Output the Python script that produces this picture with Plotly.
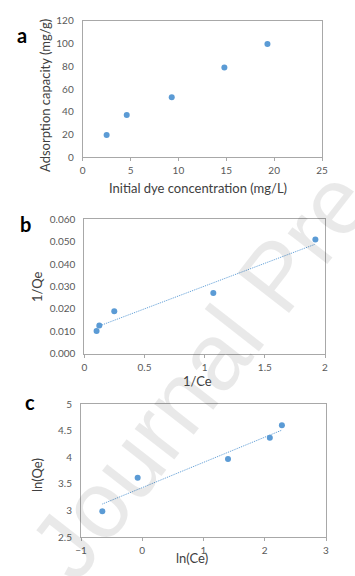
import numpy as np
import plotly.graph_objects as go

# Panel a: adsorption capacity vs initial dye concentration
conc_a = [2.5, 4.6, 9.3, 14.8, 19.3]
qe_a = [19.6, 37.2, 52.7, 78.8, 99.6]

# Panel b: Langmuir 1/Qe vs 1/Ce
inv_ce = [0.102, 0.125, 0.249, 1.072, 1.92]
inv_qe = [0.0101, 0.0126, 0.0190, 0.0271, 0.0510]

# Panel c: Freundlich ln(Qe) vs ln(Ce)
ln_ce = [-0.652, -0.075, 1.40, 2.083, 2.28]
ln_qe = [2.982, 3.615, 3.966, 4.367, 4.599]

W, H = 355, 576
BLUE = "#5b9bd5"
LINE = "#a8a8a8"
TICK = "#595959"
FONT = "Lato, 'Open Sans', sans-serif"

def px(x):
    return x / W

def py(y):
    return 1 - y / H

fig = go.Figure()

fig.add_trace(go.Scatter(x=conc_a, y=qe_a, mode="markers", marker=dict(color=BLUE, size=6),
                         xaxis="x", yaxis="y", showlegend=False))

pb = np.polyfit(inv_ce, inv_qe, 1)
xb = [min(inv_ce), max(inv_ce)]
fig.add_trace(go.Scatter(x=xb, y=list(np.polyval(pb, xb)), mode="lines",
                         line=dict(color=BLUE, width=1, dash="1px,1px"),
                         xaxis="x2", yaxis="y2", showlegend=False))
fig.add_trace(go.Scatter(x=inv_ce, y=inv_qe, mode="markers", marker=dict(color=BLUE, size=6),
                         xaxis="x2", yaxis="y2", showlegend=False))

pc = np.polyfit(ln_ce, ln_qe, 1)
xc = [min(ln_ce), max(ln_ce)]
fig.add_trace(go.Scatter(x=xc, y=list(np.polyval(pc, xc)), mode="lines",
                         line=dict(color=BLUE, width=1, dash="1px,1px"),
                         xaxis="x3", yaxis="y3", showlegend=False))
fig.add_trace(go.Scatter(x=ln_ce, y=ln_qe, mode="markers", marker=dict(color=BLUE, size=6),
                         xaxis="x3", yaxis="y3", showlegend=False))

def axis_common():
    return dict(showline=True, mirror=True, linecolor=LINE, linewidth=1, showgrid=False,
                zeroline=False, tickfont=dict(family=FONT, size=10, color=TICK),
                ticks="outside", ticklen=3, tickcolor=LINE, fixedrange=True)

ax = axis_common()
fig.update_layout(
    xaxis=dict(ax, domain=[px(82.7), px(322)], range=[0, 25], dtick=5, anchor="y"),
    yaxis=dict(ax, domain=[py(157.3), py(20.7)], range=[0, 120], dtick=20, anchor="x", ticks=""),
    xaxis2=dict(ax, domain=[px(84.3), px(325)], range=[0, 2], dtick=0.5, anchor="y2"),
    yaxis2=dict(ax, domain=[py(353.7), py(219.3)], range=[0, 0.06], dtick=0.01,
                tickformat=".3f", anchor="x2", ticks=""),
    xaxis3=dict(ax, domain=[px(81), px(326)], range=[-1, 3], dtick=1, anchor="y3"),
    yaxis3=dict(ax, domain=[py(537), py(404)], range=[2.5, 5], dtick=0.5, anchor="x3", ticks=""),
)
for k in ["yaxis", "yaxis2", "yaxis3"]:
    fig.layout[k].ticklabelstandoff = 6
for k in ["xaxis", "xaxis2", "xaxis3"]:
    fig.layout[k].ticklabelstandoff = 1

annos = []
def txt(t, x, y, size=13, angle=0, bold=False, color="#404040"):
    annos.append(dict(text=f"<b>{t}</b>" if bold else t, x=px(x), y=py(y), xref="paper", yref="paper",
                      showarrow=False, textangle=angle, xanchor="center", yanchor="middle",
                      font=dict(family=FONT, size=size, color=color)))

# watermark
annos.append(dict(text="Journal Pre-proof", x=px(276), y=py(276), xref="paper", yref="paper",
                  showarrow=False, textangle=-52, xanchor="center", yanchor="middle",
                  font=dict(family="Arial, 'Liberation Sans', sans-serif", size=95, color="rgba(0,0,0,0.085)")))

txt("a", 22, 35, size=20, bold=True, color="#000000")
txt("b", 25, 224, size=20, bold=True, color="#000000")
txt("c", 30, 402, size=20, bold=True, color="#000000")

txt("Adsorption capacity (mg/g)", 45, 96, angle=-90)
txt("Initial dye concentration (mg/L)", 198, 188)
txt("1/Qe", 37, 287, angle=-90)
txt("1/Ce", 197, 381)
txt("ln(Qe)", 37, 475, angle=-90)
txt("ln(Ce)", 192, 558)

fig.update_layout(annotations=annos, width=W, height=H,
                  margin=dict(l=0, r=0, t=0, b=0, autoexpand=False),
                  paper_bgcolor="white", plot_bgcolor="white", showlegend=False)

fig.write_html("out.html", config={"displayModeBar": False},
               post_script="document.body.style.margin='0';document.body.style.overflow='hidden';")
